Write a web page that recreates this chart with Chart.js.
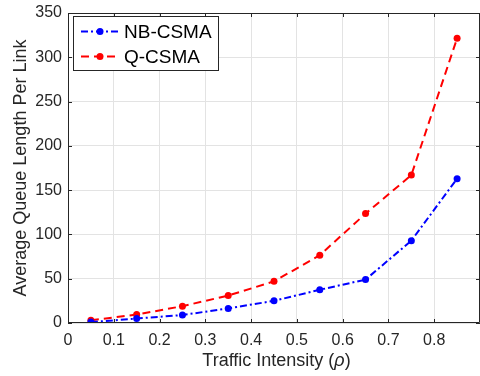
<!DOCTYPE html>
<html>
<head>
<meta charset="utf-8">
<script src="https://cdn.jsdelivr.net/npm/chart.js@4/dist/chart.umd.min.js"></script>
<style>
  html, body { margin: 0; padding: 0; background: #fff; overflow: hidden; }
  #wrap { width: 484px; height: 376px; }
</style>
</head>
<body>
<div id="wrap"><canvas id="chart" width="484" height="376"></canvas></div>
<script>
const rho = [0.05, 0.15, 0.25, 0.35, 0.45, 0.55, 0.65, 0.75, 0.85];
const nbCsma = [1, 5, 9, 16.5, 25, 37.5, 49, 93, 163];
const qCsma = [3, 9.5, 19, 31, 47, 76.5, 123.5, 167, 321.5];
const seriesNames = ["NB-CSMA", "Q-CSMA"];

const axisColor = "#262626";
const fontFamily = "'Liberation Sans', Arial, Helvetica, sans-serif";

// frame, inward ticks, axis titles and legend like the matlab figure
const matlabFrame = {
  id: "matlabFrame",
  afterDraw(chart) {
    const ctx = chart.ctx;
    const a = chart.chartArea;
    const xs = chart.scales.x, ys = chart.scales.y;
    ctx.save();
    ctx.strokeStyle = axisColor;
    ctx.lineWidth = 1;
    ctx.beginPath();
    ctx.rect(a.left + 0.5, a.top + 0.5, a.right - a.left - 1, a.bottom - a.top - 1);
    ctx.stroke();
    const tl = 4;
    ctx.beginPath();
    xs.ticks.forEach(t => {
      const px = Math.round(xs.getPixelForValue(t.value)) + 0.5;
      ctx.moveTo(px, a.bottom); ctx.lineTo(px, a.bottom - tl);
      ctx.moveTo(px, a.top); ctx.lineTo(px, a.top + tl);
    });
    ys.ticks.forEach(t => {
      const py = Math.round(ys.getPixelForValue(t.value)) + 0.5;
      ctx.moveTo(a.left, py); ctx.lineTo(a.left + tl, py);
      ctx.moveTo(a.right, py); ctx.lineTo(a.right - tl, py);
    });
    ctx.stroke();

    // axis titles
    const tf = "18px " + fontFamily, tfi = "italic 18px " + fontFamily;
    ctx.fillStyle = axisColor;
    ctx.font = tf;
    ctx.textBaseline = "middle";
    const p1 = "Traffic Intensity (", p2 = "\u03C1", p3 = ")";
    const w1 = ctx.measureText(p1).width;
    ctx.font = tfi;
    const w2 = ctx.measureText(p2).width;
    ctx.font = tf;
    const w3 = ctx.measureText(p3).width;
    let x0 = 276.5 - (w1 + w2 + w3) / 2;
    const ty = 361;
    ctx.textAlign = "left";
    ctx.fillText(p1, x0, ty);
    ctx.font = tfi;
    ctx.fillText(p2, x0 + w1, ty);
    ctx.font = tf;
    ctx.fillText(p3, x0 + w1 + w2, ty);

    ctx.save();
    ctx.translate(21, (a.top + a.bottom) / 2);
    ctx.rotate(-Math.PI / 2);
    ctx.textAlign = "center";
    ctx.fillText("Average Queue Length Per Link", 0, 0);
    ctx.restore();

    // legend box
    ctx.fillStyle = "#fff";
    ctx.fillRect(73, 16, 146, 55);
    ctx.strokeStyle = axisColor;
    ctx.strokeRect(73.5, 16.5, 145, 54);
    chart.data.datasets.forEach((ds, i) => {
      const ly = 31.5 + i * 25;
      ctx.strokeStyle = ds.borderColor;
      ctx.lineWidth = 2;
      ctx.setLineDash(ds.borderDash);
      ctx.beginPath();
      ctx.moveTo(81, ly); ctx.lineTo(119, ly);
      ctx.stroke();
      ctx.setLineDash([]);
      ctx.fillStyle = ds.pointBackgroundColor;
      ctx.beginPath();
      ctx.arc(100, ly, 3.5, 0, Math.PI * 2);
      ctx.fill();
      ctx.fillStyle = "#000";
      ctx.font = "19px " + fontFamily;
      ctx.textAlign = "left";
      ctx.fillText(ds.label, 124, ly + 1);
    });
    ctx.restore();
  }
};

new Chart(document.getElementById("chart"), {
  type: "line",
  data: {
    labels: rho,
    datasets: [
      {
        label: seriesNames[0],
        data: rho.map((r, i) => ({ x: r, y: nbCsma[i] })),
        borderColor: "#0000ff",
        backgroundColor: "#0000ff",
        pointBackgroundColor: "#0000ff",
        pointBorderColor: "#0000ff",
        borderWidth: 2,
        borderDash: [7, 3, 2, 3],
        pointRadius: 3.5,
        pointBorderWidth: 0,
        tension: 0,
      },
      {
        label: seriesNames[1],
        data: rho.map((r, i) => ({ x: r, y: qCsma[i] })),
        borderColor: "#ff0000",
        backgroundColor: "#ff0000",
        pointBackgroundColor: "#ff0000",
        pointBorderColor: "#ff0000",
        borderWidth: 2,
        borderDash: [8, 5],
        pointRadius: 3.5,
        pointBorderWidth: 0,
        tension: 0,
      },
    ],
  },
  plugins: [matlabFrame],
  options: {
    responsive: false,
    animation: false,
    layout: { padding: { top: 13, right: 1, left: 0, bottom: 0 } },
    plugins: { legend: { display: false }, tooltip: { enabled: false } },
    scales: {
      x: {
        type: "linear",
        min: 0,
        max: 0.9,
        afterFit: (s) => { s.height = 53; s.paddingLeft = 0; s.paddingRight = 0; },
        ticks: {
          stepSize: 0.1,
          maxRotation: 0,
          padding: 8,
          color: axisColor,
          font: { size: 16, family: fontFamily },
          callback: (v) => (v > 0.85 ? "" : (Math.round(v * 10) / 10).toString()),
        },
        grid: { color: "#e3e3e3", lineWidth: 1, drawTicks: false },
        border: { display: false },
      },
      y: {
        min: 0,
        max: 350,
        afterFit: (s) => { s.width = 68; s.paddingTop = 0; s.paddingBottom = 0; },
        ticks: {
          stepSize: 50,
          padding: 6,
          color: axisColor,
          font: { size: 16, family: fontFamily },
        },
        grid: { color: "#e3e3e3", lineWidth: 1, drawTicks: false },
        border: { display: false },
      },
    },
  },
});
</script>
</body>
</html>
